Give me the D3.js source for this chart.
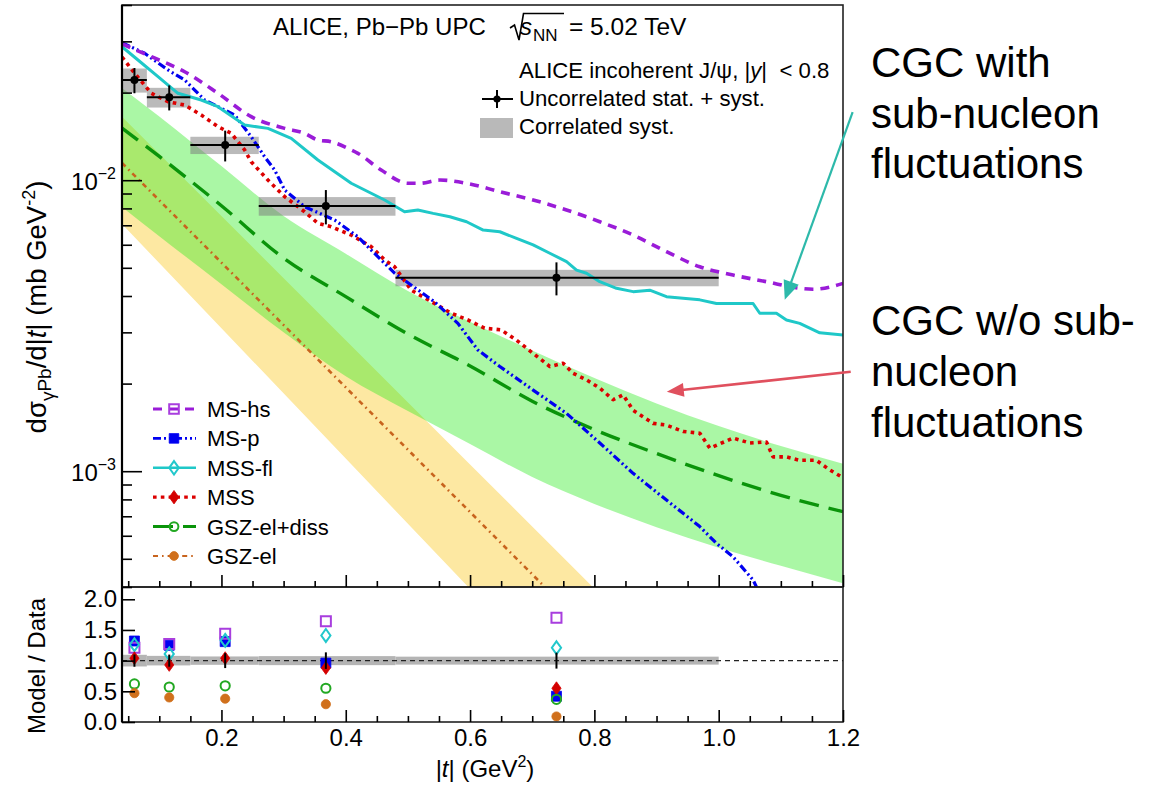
<!DOCTYPE html>
<html>
<head>
<meta charset="utf-8">
<title>Incoherent J/psi photoproduction in Pb-Pb UPC</title>
<script src="https://cdn.jsdelivr.net/npm/d3@7"></script>
<style>
  html, body { margin: 0; padding: 0; background: #fff; }
  svg { display: block; }
  text { font-family: "Liberation Sans", Arial, Helvetica, sans-serif; fill: #000; }
</style>
</head>
<body>
<svg id="chart" width="1158" height="786"></svg>
<script>
// ---- measured incoherent J/psi cross section, |y| < 0.8 ----
const binLo = [0.04, 0.08, 0.15, 0.26, 0.48];
const binHi = [0.08, 0.15, 0.26, 0.48, 1.00];
const tMean = [0.060, 0.116, 0.206, 0.368, 0.739];
const xsec = [0.0221, 0.01927, 0.0132, 0.00815, 0.00462];
const errUncorr = [0.0022, 0.0019, 0.0016, 0.0011, 0.0006];
const errCorr = [0.0021, 0.0015, 0.0009, 0.0006, 0.0003];

// ---- model predictions, dsigma/d|t| (mb GeV^-2) ----
const msHsT = [0.04, 0.0871, 0.1408, 0.1944, 0.2479, 0.3017, 0.3338, 0.3552, 0.3766, 0.4088, 0.4195, 0.4570, 0.4999, 0.5193, 0.5514, 0.5944, 0.6479, 0.7015, 0.7552, 0.8087, 0.8623, 0.9160, 0.9696, 1.0231, 1.0768, 1.1304, 1.1518, 1.2];
const msHsV = [0.0294, 0.02657, 0.02359, 0.01989, 0.01653, 0.01507, 0.01449, 0.01374, 0.01356, 0.01270, 0.01237, 0.01084, 0.00976, 0.00976, 0.01001, 0.00976, 0.00913, 0.00855, 0.00790, 0.00720, 0.00648, 0.00568, 0.00504, 0.00472, 0.00448, 0.00425, 0.00422, 0.00442];

const msPT = [0.04, 0.0443, 0.0765, 0.114, 0.1408, 0.1730, 0.1944, 0.2213, 0.2479, 0.2695, 0.2856, 0.3017, 0.3338, 0.3821, 0.4195, 0.4625, 0.4786, 0.5429, 0.5804, 0.6125, 0.6479, 0.7015, 0.7552, 0.8087, 0.8623, 0.9160, 0.9696, 0.9964, 1.0231, 1.0553, 1.062];
const msPV = [0.0296, 0.0294, 0.02729, 0.02392, 0.02210, 0.01886, 0.01789, 0.01675, 0.01410, 0.01204, 0.01084, 0.00925, 0.00811, 0.00730, 0.00639, 0.00518, 0.00479, 0.00382, 0.00322, 0.00261, 0.00229, 0.00190, 0.00158, 0.00125, 0.000983, 0.000796, 0.000645, 0.000565, 0.000508, 0.000423, 0.000395];

const mssFlT = [0.04, 0.0657, 0.0979, 0.130, 0.1675, 0.1944, 0.2373, 0.2748, 0.3123, 0.3552, 0.4088, 0.4625, 0.4946, 0.5160, 0.5406, 0.5675, 0.5944, 0.6211, 0.6479, 0.6748, 0.7015, 0.7283, 0.7552, 0.7713, 0.7873, 0.8087, 0.8356, 0.8623, 0.8891, 0.9160, 0.9427, 0.9696, 0.9964, 1.0231, 1.0553, 1.0661, 1.0929, 1.1090, 1.1304, 1.1626, 1.2];
const mssFlV = [0.02875, 0.02588, 0.02268, 0.01989, 0.01886, 0.01789, 0.01547, 0.01507, 0.01393, 0.01173, 0.00976, 0.00855, 0.00779, 0.00790, 0.00769, 0.00749, 0.00720, 0.00674, 0.00665, 0.00631, 0.00599, 0.00561, 0.00525, 0.00491, 0.00479, 0.00448, 0.00425, 0.00414, 0.00419, 0.00398, 0.00393, 0.00388, 0.00377, 0.00377, 0.00377, 0.00349, 0.00349, 0.00331, 0.00322, 0.00299, 0.00294];

const mssT = [0.04, 0.0604, 0.0871, 0.114, 0.1408, 0.1675, 0.1944, 0.2158, 0.2373, 0.2479, 0.2748, 0.3017, 0.3338, 0.3552, 0.3766, 0.4088, 0.4409, 0.4625, 0.4786, 0.5053, 0.5429, 0.5696, 0.5964, 0.6233, 0.6500, 0.6748, 0.7015, 0.7283, 0.7497, 0.7658, 0.7873, 0.8087, 0.8301, 0.8462, 0.8623, 0.8945, 0.9160, 0.9427, 0.9696, 0.9857, 1.0231, 1.0500, 1.0768, 1.0874, 1.1090, 1.1304, 1.1572, 1.1787, 1.1974];
const mssV = [0.02651, 0.02330, 0.01989, 0.01861, 0.01813, 0.01675, 0.01527, 0.01449, 0.01270, 0.01157, 0.01001, 0.00878, 0.00779, 0.00711, 0.00692, 0.00648, 0.00591, 0.00532, 0.00504, 0.00419, 0.00377, 0.00349, 0.00331, 0.00310, 0.00306, 0.00282, 0.00254, 0.00229, 0.00235, 0.00217, 0.00206, 0.00193, 0.00176, 0.00183, 0.00162, 0.00146, 0.00144, 0.00137, 0.00135, 0.00120, 0.00130, 0.00125, 0.00126, 0.00112, 0.00112, 0.00109, 0.00109, 0.00101, 0.000957];

const gszT = [0.04, 0.1, 0.2, 0.3, 0.4, 0.5, 0.6, 0.7, 0.8, 0.9, 1.0, 1.1, 1.2];
const gszDissV = [0.01511, 0.01207, 0.00817, 0.00540, 0.00398, 0.00296, 0.00230, 0.00174, 0.00139, 0.00115, 0.000965, 0.000826, 0.000726];
const gszDissHi = [0.02074, 0.01656, 0.01118, 0.00753, 0.00559, 0.00416, 0.00326, 0.00260, 0.00209, 0.00171, 0.00143, 0.00122, 0.00106];
const gszDissLo = [0.00809, 0.00642, 0.00439, 0.00300, 0.00212, 0.00161, 0.00124, 0.000955, 0.000772, 0.000642, 0.000546, 0.000473, 0.000412];

const gszElT = [0.04, 0.2, 0.4, 0.6, 0.8];
const gszElV = [0.01146, 0.00521, 0.00194, 0.000724, 0.00027];
const gszElHi = [0.01653, 0.00753, 0.00282, 0.001055, 0.000395];
const gszElLo = [0.00707, 0.0031, 0.001105, 0.000394, 0.00014];

// ---- model / data ratios per |t| bin ----
const ratioMsHs = [1.21, 1.27, 1.44, 1.64, 1.70];
const ratioMsP = [1.32, 1.25, 1.31, 0.96, 0.42];
const ratioMssFl = [1.26, 1.11, 1.33, 1.41, 1.21];
const ratioMss = [1.04, 0.93, 1.04, 0.88, 0.55];
const ratioGszDiss = [0.62, 0.57, 0.59, 0.55, 0.37];
const ratioGszEl = [0.47, 0.40, 0.38, 0.29, 0.09];

// ---- axis ticks ----
const xMajor = [0.2, 0.4, 0.6, 0.8, 1.0, 1.2];
const xMajorLabels = ["0.2", "0.4", "0.6", "0.8", "1.0", "1.2"];
const yLogMajor = [1e-3, 1e-2];
const yLogExp = ["\u22123", "\u22122"];
const rMajor = [0, 0.5, 1.0, 1.5, 2.0];
const rMajorLabels = ["0.0", "0.5", "1.0", "1.5", "2.0"];

// ---- layout ----
const L = 122, R = 843, TOP = 5, MID = 587, BOT = 722;
const svg = d3.select("#chart");
const x = d3.scaleLinear().domain([0.04, 1.2]).range([L, R]);
const y = d3.scaleLog().domain([4e-4, 4e-2]).range([MID, TOP]);
const yr = d3.scaleLinear().domain([0, 2.2]).range([BOT, MID]);

svg.append("rect").attr("width", 1158).attr("height", 786).attr("fill", "#fff");

const defs = svg.append("defs");
defs.append("clipPath").attr("id", "clipTop").append("rect")
  .attr("x", L).attr("y", TOP).attr("width", R - L).attr("height", MID - TOP);
defs.append("clipPath").attr("id", "clipBot").append("rect")
  .attr("x", L).attr("y", MID).attr("width", R - L).attr("height", BOT - MID);

const models = [
  { key: "gszEl", name: "GSZ-el", t: gszElT, v: gszElV, ratio: ratioGszEl, color: "#c8641e", width: 2.6, dash: "5,4,1.6,4", marker: "circle", filled: true, mcolor: "#d0701c" },
  { key: "gszDiss", name: "GSZ-el+diss", t: gszT, v: gszDissV, ratio: ratioGszDiss, color: "#0a940a", width: 3.4, dash: "20,10", marker: "circle", filled: false, mcolor: "#22a822" },
  { key: "mss", name: "MSS", t: mssT, v: mssV, ratio: ratioMss, color: "#dc0000", width: 3.6, dash: "3.6,4.2", marker: "diamond", filled: true, mcolor: "#d40000" },
  { key: "msP", name: "MS-p", t: msPT, v: msPV, ratio: ratioMsP, color: "#0000f0", width: 3.2, dash: "8,3,2,3,2,3", marker: "square", filled: true, mcolor: "#0000f0" },
  { key: "mssFl", name: "MSS-fl", t: mssFlT, v: mssFlV, ratio: ratioMssFl, color: "#1fc8c8", width: 3, dash: null, marker: "diamond", filled: false, mcolor: "#22c8cc" },
  { key: "msHs", name: "MS-hs", t: msHsT, v: msHsV, ratio: ratioMsHs, color: "#9a1cd8", width: 3.6, dash: "9,7", marker: "square", filled: false, mcolor: "#a83ede" }
];
const byKey = k => models.find(m => m.key === k);

function markerPath(type, s) {
  if (type === "square") return `M${-s},${-s}H${s}V${s}H${-s}Z`;
  if (type === "diamond") return `M0,${-s * 1.4}L${s},0L0,${s * 1.4}L${-s},0Z`;
  return d3.symbol(d3.symbolCircle, Math.PI * s * s)();
}
function drawMarker(g, m, cx, cy, s) {
  g.append("path").attr("d", markerPath(m.marker, s))
    .attr("transform", `translate(${cx},${cy})`)
    .attr("fill", m.filled ? m.mcolor : "#fff")
    .attr("fill-opacity", m.filled ? 1 : 0)
    .attr("stroke", m.mcolor)
    .attr("stroke-width", m.filled ? 0.8 : 2);
}

// ================= upper panel =================
const gTop = svg.append("g").attr("clip-path", "url(#clipTop)");

const band = d3.area().x(d => x(d[0])).y0(d => y(d[1])).y1(d => y(d[2]));
gTop.append("path").datum(d3.zip(gszElT, gszElLo, gszElHi))
  .attr("d", band).attr("fill", "#fde8a2");
gTop.append("path").datum(d3.zip(gszT, gszDissLo, gszDissHi))
  .attr("d", band.curve(d3.curveMonotoneX)).attr("fill", "#2aeb1e").attr("fill-opacity", 0.4);

// correlated systematic boxes
gTop.selectAll("rect.corr").data(d3.range(xsec.length)).join("rect")
  .attr("x", i => x(binLo[i])).attr("width", i => x(binHi[i]) - x(binLo[i]))
  .attr("y", i => y(xsec[i] + errCorr[i]))
  .attr("height", i => y(xsec[i] - errCorr[i]) - y(xsec[i] + errCorr[i]))
  .attr("fill", "#7a7a7a").attr("fill-opacity", 0.52);

// model curves
models.forEach(m => {
  const smooth = (m.key === "gszDiss" || m.key === "msHs");
  const ln = d3.line().x(d => x(d[0])).y(d => y(d[1]))
    .curve(smooth ? d3.curveMonotoneX : d3.curveLinear);
  gTop.append("path").datum(d3.zip(m.t, m.v)).attr("d", ln)
    .attr("fill", "none").attr("stroke", m.color).attr("stroke-width", m.width)
    .attr("stroke-dasharray", m.dash).attr("stroke-linejoin", "round");
});

// data points with uncorrelated uncertainties
const pts = svg.append("g");
d3.range(xsec.length).forEach(i => {
  pts.append("line").attr("x1", x(binLo[i])).attr("x2", x(binHi[i]))
    .attr("y1", y(xsec[i])).attr("y2", y(xsec[i])).attr("stroke", "#000").attr("stroke-width", 2);
  pts.append("line").attr("x1", x(tMean[i])).attr("x2", x(tMean[i]))
    .attr("y1", y(xsec[i] + errUncorr[i])).attr("y2", y(xsec[i] - errUncorr[i]))
    .attr("stroke", "#000").attr("stroke-width", 2);
  pts.append("circle").attr("cx", x(tMean[i])).attr("cy", y(xsec[i])).attr("r", 4).attr("fill", "#000");
});

// ================= lower panel =================
const gBot = svg.append("g").attr("clip-path", "url(#clipBot)");
gBot.selectAll("rect.rcorr").data(d3.range(xsec.length)).join("rect")
  .attr("x", i => x(binLo[i])).attr("width", i => x(binHi[i]) - x(binLo[i]))
  .attr("y", i => yr(1 + errCorr[i] / xsec[i]))
  .attr("height", i => yr(1 - errCorr[i] / xsec[i]) - yr(1 + errCorr[i] / xsec[i]))
  .attr("fill", "#b4b4b4");
gBot.append("line").attr("x1", L).attr("x2", R).attr("y1", yr(1)).attr("y2", yr(1))
  .attr("stroke", "#222").attr("stroke-width", 1.3).attr("stroke-dasharray", "5,4");

const ratioOrder = ["msP", "msHs", "mssFl", "mss", "gszDiss", "gszEl"];
ratioOrder.forEach(k => {
  const m = byKey(k);
  m.ratio.forEach((r, i) => {
    drawMarker(gBot, m, x(tMean[i]), yr(r), m.marker === "square" ? 5 : 4.6);
  });
});
d3.range(xsec.length).forEach(i => {
  gBot.append("line").attr("x1", x(tMean[i])).attr("x2", x(tMean[i]))
    .attr("y1", yr(1 + errUncorr[i] / xsec[i])).attr("y2", yr(1 - errUncorr[i] / xsec[i]))
    .attr("stroke", "#000").attr("stroke-width", 2);
});

// ================= frames and axes =================
const axes = svg.append("g");
axes.append("rect").attr("x", L).attr("y", TOP).attr("width", R - L).attr("height", MID - TOP)
  .attr("fill", "none").attr("stroke", "#222").attr("stroke-width", 1.6);
axes.append("rect").attr("x", L).attr("y", MID).attr("width", R - L).attr("height", BOT - MID)
  .attr("fill", "none").attr("stroke", "#222").attr("stroke-width", 1.6);
axes.append("line").attr("x1", L).attr("x2", L).attr("y1", TOP).attr("y2", BOT)
  .attr("stroke", "#000").attr("stroke-width", 2.2);

const xMinor = d3.range(1, 24).map(k => +(k * 0.05).toFixed(2)).filter(v => Math.abs(v * 5 - Math.round(v * 5)) > 1e-6);

function xTicks(yPos, withLabels) {
  const gMin = axes.append("g").attr("transform", `translate(0,${yPos})`)
    .call(d3.axisBottom(x).tickValues(xMinor).tickSize(-6).tickFormat(""));
  const gMaj = axes.append("g").attr("transform", `translate(0,${yPos})`)
    .call(d3.axisBottom(x).tickValues(xMajor).tickSize(-12).tickPadding(7)
      .tickFormat((d, i) => withLabels ? xMajorLabels[i] : ""));
  [gMin, gMaj].forEach(g => {
    g.select(".domain").remove();
    g.selectAll(".tick line").attr("stroke", "#000").attr("stroke-width", 1.6);
  });
  gMaj.selectAll(".tick text").attr("font-size", 24).attr("font-family", "Liberation Sans, Arial, sans-serif").attr("fill", "#000");
}
xTicks(MID, false);
xTicks(BOT, true);

// log y ticks on the upper panel
const yMinor = [];
[1e-4, 1e-3, 1e-2].forEach(dec => d3.range(2, 10).forEach(k => {
  const v = +(k * dec).toPrecision(3);
  if (v >= 4e-4 && v <= 4e-2) yMinor.push(v);
}));
const gyMin = axes.append("g").attr("transform", `translate(${L},0)`)
  .call(d3.axisLeft(y).tickValues(yMinor).tickSize(-10).tickFormat(""));
const gyMaj = axes.append("g").attr("transform", `translate(${L},0)`)
  .call(d3.axisLeft(y).tickValues(yLogMajor).tickSize(-20).tickFormat(""));
[gyMin, gyMaj].forEach(g => {
  g.select(".domain").remove();
  g.selectAll(".tick line").attr("stroke", "#000").attr("stroke-width", 1.6);
});
yLogMajor.forEach((v, i) => {
  const t = axes.append("text").attr("x", 116).attr("y", y(v) + 10)
    .attr("text-anchor", "end").attr("font-size", 24);
  t.append("tspan").text("10");
  t.append("tspan").attr("dy", -11).attr("font-size", 16).text(yLogExp[i]);
});

// ratio y ticks
const gr = axes.append("g").attr("transform", `translate(${L},0)`)
  .call(d3.axisLeft(yr).tickValues(rMajor).tickSize(-13).tickPadding(6)
    .tickFormat((d, i) => rMajorLabels[i]));
gr.select(".domain").remove();
gr.selectAll(".tick line").attr("stroke", "#000").attr("stroke-width", 1.6);
gr.selectAll(".tick text").attr("font-size", 24).attr("font-family", "Liberation Sans, Arial, sans-serif").attr("fill", "#000")
  .attr("x", -5);

// axis titles
const yTitle = svg.append("text").attr("transform", "translate(46,307) rotate(-90)")
  .attr("text-anchor", "middle").attr("font-size", 27.5);
yTitle.append("tspan").text("d\u03c3");
yTitle.append("tspan").attr("font-size", 19).attr("dy", 8).text("\u03b3");
yTitle.append("tspan").attr("font-size", 19).attr("dy", -3).text("Pb");
yTitle.append("tspan").attr("dy", -5).text("/d|");
yTitle.append("tspan").attr("font-style", "italic").text("t");
yTitle.append("tspan").text("| (mb GeV");
yTitle.append("tspan").attr("font-size", 18).attr("dy", -11).text("-2");
yTitle.append("tspan").attr("dy", 11).text(")");

svg.append("text").attr("transform", "translate(45,666) rotate(-90)")
  .attr("text-anchor", "middle").attr("font-size", 24).text("Model / Data");

const xTitle = svg.append("text").attr("x", 485).attr("y", 777).attr("text-anchor", "middle").attr("font-size", 24);
xTitle.append("tspan").text("|");
xTitle.append("tspan").attr("font-style", "italic").text("t");
xTitle.append("tspan").text("| (GeV");
xTitle.append("tspan").attr("font-size", 16).attr("dy", -10).text("2");
xTitle.append("tspan").attr("dy", 10).text(")");

// ================= header and legends =================
svg.append("text").attr("x", 273).attr("y", 35).attr("font-size", 24).text("ALICE, Pb\u2212Pb UPC");
svg.append("path").attr("d", "M510,28 L514.5,25 L519,40 L523.5,13.5 L564,13.5")
  .attr("fill", "none").attr("stroke", "#000").attr("stroke-width", 1.6);
const sq = svg.append("text").attr("x", 520).attr("y", 35).attr("font-size", 24);
sq.append("tspan").attr("font-style", "italic").text("s");
sq.append("tspan").attr("font-size", 17).attr("dy", 6).attr("dx", 1).text("NN");
svg.append("text").attr("x", 569).attr("y", 35).attr("font-size", 24.5).text("= 5.02 TeV");

const lg = svg.append("g");
const lt = lg.append("text").attr("x", 519).attr("y", 78).attr("font-size", 22.2).attr("xml:space", "preserve");
lt.append("tspan").text("ALICE incoherent J/\u03c8, |");
lt.append("tspan").attr("font-style", "italic").text("y");
lt.append("tspan").text("|  < 0.8");

lg.append("line").attr("x1", 482).attr("x2", 513).attr("y1", 99).attr("y2", 99).attr("stroke", "#000").attr("stroke-width", 2);
lg.append("line").attr("x1", 497).attr("x2", 497).attr("y1", 90).attr("y2", 108).attr("stroke", "#000").attr("stroke-width", 2);
lg.append("circle").attr("cx", 497).attr("cy", 99).attr("r", 3.6).attr("fill", "#000");
lg.append("text").attr("x", 519).attr("y", 106).attr("font-size", 22.2).text("Uncorrelated stat. + syst.");
lg.append("rect").attr("x", 480).attr("y", 118).attr("width", 33).attr("height", 20).attr("fill", "#b9b9b9");
lg.append("text").attr("x", 519).attr("y", 134).attr("font-size", 22.2).text("Correlated syst.");

const legendOrder = ["msHs", "msP", "mssFl", "mss", "gszDiss", "gszEl"];
legendOrder.forEach((k, i) => {
  const m = byKey(k);
  const cy = 409 + i * 29.4;
  lg.append("line").attr("x1", 153).attr("x2", 196).attr("y1", cy).attr("y2", cy)
    .attr("stroke", m.color).attr("stroke-width", m.width - 0.4).attr("stroke-dasharray", m.dash);
  drawMarker(lg, m, 174, cy, m.marker === "circle" ? 4.4 : 4.8);
  lg.append("text").attr("x", 207).attr("y", cy + 8).attr("font-size", 22).text(m.name);
});

// ================= annotations =================
const ann = svg.append("g");
const arrow = (t0, v0, t1, v1, color, w, head, half) => {
  const x0 = x(t0), y0 = y(v0), x1 = x(t1), y1 = y(v1);
  const dx = x1 - x0, dy = y1 - y0, len = Math.hypot(dx, dy);
  const ux = dx / len, uy = dy / len;
  const bx = x1 - ux * head, by = y1 - uy * head;
  ann.append("line").attr("x1", x0).attr("y1", y0).attr("x2", bx + ux * 2).attr("y2", by + uy * 2)
    .attr("stroke", color).attr("stroke-width", w);
  ann.append("path").attr("d", `M${x1},${y1}L${bx - uy * half},${by + ux * half}L${bx + uy * half},${by - ux * half}Z`)
    .attr("fill", color);
};
arrow(1.2155, 0.01715, 1.1063, 0.00388, "#2db9aa", 2.2, 19, 8);
arrow(1.2124, 0.002197, 0.9165, 0.001876, "#e0505e", 2.6, 17, 7);

const annLines1 = ["CGC with", "sub-nucleon", "fluctuations"];
const annLines2 = ["CGC w/o sub-", "nucleon", "fluctuations"];
annLines1.forEach((s, i) => ann.append("text").attr("x", 871).attr("y", 77 + i * 50.5).attr("font-size", 42).text(s));
annLines2.forEach((s, i) => ann.append("text").attr("x", 871).attr("y", 335 + i * 50.8).attr("font-size", 42).text(s));
</script>
</body>
</html>
